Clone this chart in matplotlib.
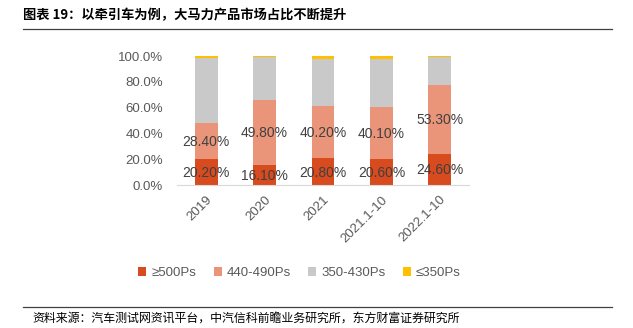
import matplotlib.pyplot as plt
import numpy as np

plt.rcParams['font.family'] = ['Liberation Sans', 'Noto Sans CJK SC', 'DejaVu Sans']

categories = ["2019", "2020", "2021", "2021.1-10", "2022.1-10"]
series_names = ["≥500Ps", "440-490Ps", "350-430Ps", "≤350Ps"]
hp500 = [20.2, 16.1, 20.8, 20.6, 24.6]
hp440 = [28.4, 49.8, 40.2, 40.1, 53.3]
hp350 = [50.2, 33.3, 36.6, 36.7, 21.5]
hp_low = [1.2, 0.8, 2.4, 2.6, 0.6]
colors = ["#D84B1E", "#EA957A", "#C9C9C9", "#FFC000"]

fig = plt.figure(figsize=(6.33, 3.28), dpi=100)
ax = fig.add_axes([0.2796, 0.435, 0.4613, 0.394])

x = np.arange(len(categories))
bottom = np.zeros(len(categories))
for vals, name, c in zip([hp500, hp440, hp350, hp_low], series_names, colors):
    v = np.array(vals) / 100
    ax.bar(x, v, 0.39, bottom=bottom, color=c, label=name, clip_on=False)
    if name in ("≥500Ps", "440-490Ps"):
        for xi, b, vi in zip(x, bottom, vals):
            ax.text(xi, b + vi / 200 - 0.008, f"{vi:.2f}%", ha="center", va="center",
                    fontsize=10, color="#404040")
    bottom += v

ax.set_xlim(-0.5, 4.5)
ax.set_ylim(0, 1)
ax.set_yticks(np.linspace(0, 1, 6))
ax.set_yticklabels([f"{t:.1f}%" for t in np.linspace(0, 100, 6)])
ax.set_xticks(x)
ax.set_xticklabels(categories, rotation=45, ha="right", rotation_mode="anchor")
ax.tick_params(axis="both", length=0, labelsize=9.5, colors="#595959")
ax.tick_params(axis="y", pad=10)
ax.tick_params(axis="x", pad=6)
for s in ["top", "right", "left"]:
    ax.spines[s].set_visible(False)
ax.spines["bottom"].set_color("#D9D9D9")

ax.legend(loc="center", bbox_to_anchor=(0.42, -0.68), ncol=4, frameon=False,
          fontsize=9.5, handlelength=0.6, handleheight=0.6, handletextpad=0.4,
          columnspacing=1.3, labelcolor="#595959")

fig.text(0.036, 0.953, "图表 19：以牵引车为例，大马力产品市场占比不断提升",
         fontsize=9.5, fontweight="bold", family=["Noto Sans CJK SC"], va="center")
fig.add_artist(plt.Line2D([0.036, 0.967], [0.911, 0.911], color="#404040", lw=0.9))
fig.add_artist(plt.Line2D([0.036, 0.967], [0.064, 0.064], color="#404040", lw=0.9))
fig.text(0.052, 0.027, "资料来源：汽车测试网资讯平台，中汽信科前瞻业务研究所，东方财富证券研究所",
         fontsize=8.6, family=["Noto Sans CJK SC"], va="center")

fig.savefig("out.png", dpi=100)
